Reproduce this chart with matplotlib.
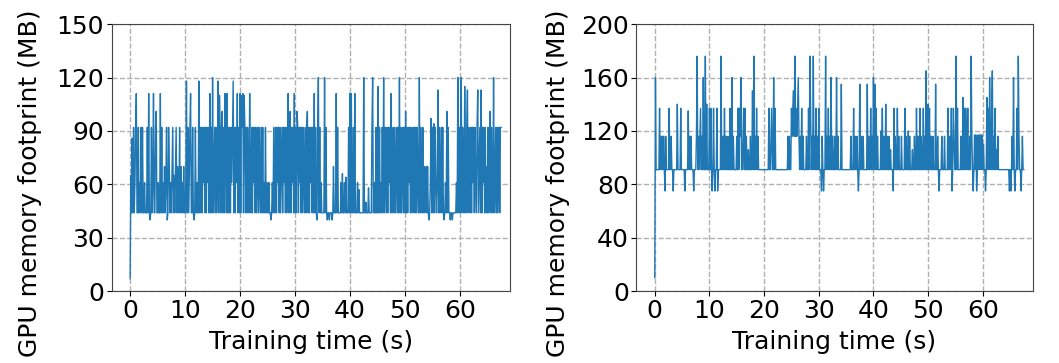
import numpy as np
import matplotlib.pyplot as plt

dt = 0.125

# left run, 5 s per row
mem_left = [
    7, 65, 44, 86, 44, 92, 44, 61, 92, 111, 44, 44, 92, 44, 61, 44, 92, 44, 92, 44,
    44, 61, 44, 44, 44, 92, 44, 111, 44, 40, 44, 92, 44, 61, 111, 44, 44, 92, 101, 44,
    44, 61, 44, 44, 111, 44, 92, 44, 61, 44, 70, 44, 61, 92, 40, 44, 92, 70, 44, 61,
    44, 70, 92, 44, 65, 44, 70, 92, 44, 70, 61, 44, 92, 44, 70, 44, 61, 44, 70, 44,
    44, 61, 118, 44, 92, 44, 61, 92, 111, 44, 44, 92, 44, 40, 44, 92, 44, 61, 44, 44,
    118, 44, 92, 44, 92, 44, 92, 61, 92, 44, 92, 44, 92, 61, 92, 44, 111, 44, 92, 44,
    120, 44, 70, 92, 44, 92, 44, 61, 118, 44, 110, 92, 44, 92, 101, 44, 92, 44, 111, 92,
    44, 111, 44, 92, 44, 92, 44, 92, 61, 92, 118, 44, 92, 44, 92, 61, 111, 44, 92, 44,
    111, 44, 110, 92, 111, 44, 110, 92, 44, 92, 44, 92, 61, 44, 111, 61, 44, 92, 44, 92,
    61, 92, 44, 92, 44, 61, 92, 44, 92, 61, 44, 92, 44, 92, 44, 61, 44, 92, 44, 61,
    44, 44, 61, 44, 44, 40, 44, 61, 44, 92, 61, 44, 92, 44, 92, 61, 92, 44, 92, 44,
    70, 92, 44, 92, 61, 92, 44, 92, 44, 61, 111, 44, 92, 101, 44, 92, 61, 92, 44, 111,
    44, 92, 44, 101, 92, 44, 92, 61, 92, 44, 92, 44, 92, 61, 44, 92, 44, 92, 101, 44,
    92, 44, 92, 61, 92, 44, 92, 44, 111, 44, 92, 44, 40, 92, 120, 44, 92, 44, 61, 44,
    44, 44, 44, 120, 44, 92, 44, 40, 44, 44, 40, 44, 44, 44, 40, 44, 70, 44, 44, 44,
    111, 44, 92, 44, 44, 44, 44, 61, 44, 66, 44, 44, 61, 44, 64, 44, 44, 44, 92, 44,
    111, 44, 111, 44, 44, 92, 44, 111, 44, 44, 44, 61, 44, 57, 44, 44, 44, 44, 44, 44,
    120, 44, 44, 50, 44, 44, 44, 58, 44, 44, 44, 44, 92, 120, 44, 61, 44, 44, 92, 44,
    44, 115, 44, 92, 44, 61, 44, 92, 44, 120, 44, 92, 61, 44, 92, 44, 92, 61, 92, 44,
    111, 44, 61, 92, 44, 92, 44, 70, 92, 44, 92, 44, 120, 44, 92, 44, 61, 92, 44, 92,
    44, 101, 44, 92, 44, 92, 61, 92, 44, 92, 44, 61, 92, 44, 92, 44, 92, 44, 92, 61,
    44, 120, 44, 92, 61, 44, 92, 44, 70, 44, 61, 70, 44, 70, 44, 40, 44, 61, 97, 44,
    92, 44, 94, 44, 92, 61, 44, 61, 113, 44, 92, 44, 61, 92, 44, 92, 44, 40, 44, 61,
    44, 101, 44, 92, 44, 44, 40, 44, 44, 40, 44, 44, 44, 44, 44, 61, 44, 120, 44, 92,
    44, 92, 120, 44, 92, 61, 44, 115, 70, 44, 92, 113, 44, 92, 61, 44, 92, 44, 92, 61,
    92, 44, 92, 61, 44, 92, 113, 44, 70, 92, 44, 113, 44, 92, 61, 92, 44, 92, 44, 70,
    44, 92, 44, 61, 101, 44, 92, 61, 44, 120, 44, 61, 92, 44, 92, 44, 61, 92, 44, 92,
    92,
]

# right run
mem_right = [
    10, 160, 91, 91, 91, 91, 91, 137, 91, 116, 91, 116, 91, 116, 91, 75, 116, 91, 91, 91,
    91, 137, 91, 91, 116, 91, 91, 75, 91, 91, 91, 91, 91, 140, 91, 91, 91, 91, 137, 91,
    91, 91, 91, 91, 75, 91, 91, 91, 91, 135, 91, 116, 91, 116, 91, 91, 91, 75, 91, 91,
    91, 116, 176, 91, 116, 91, 116, 137, 91, 116, 91, 160, 91, 91, 176, 91, 140, 91, 91, 91,
    137, 91, 137, 91, 75, 91, 137, 91, 75, 91, 91, 137, 75, 91, 91, 91, 91, 176, 91, 91,
    116, 91, 137, 91, 116, 91, 91, 116, 91, 91, 137, 91, 91, 160, 91, 116, 91, 91, 91, 91,
    116, 91, 137, 91, 137, 116, 160, 91, 91, 116, 137, 91, 137, 91, 116, 91, 91, 106, 91, 91,
    116, 91, 91, 150, 91, 176, 91, 116, 91, 137, 91, 116, 91, 91, 91, 91, 91, 91, 91, 91,
    91, 91, 91, 91, 91, 91, 91, 137, 91, 91, 116, 137, 91, 91, 160, 91, 137, 91, 91, 91,
    91, 91, 91, 91, 91, 91, 91, 91, 91, 91, 91, 91, 91, 91, 91, 116, 91, 116, 91, 91,
    137, 116, 137, 150, 116, 176, 116, 137, 116, 137, 160, 116, 91, 116, 91, 137, 91, 116, 91, 91,
    91, 91, 116, 91, 91, 137, 91, 176, 140, 91, 116, 91, 176, 91, 116, 91, 137, 91, 116, 91,
    137, 91, 91, 91, 75, 116, 91, 75, 91, 91, 176, 91, 116, 91, 137, 91, 116, 91, 160, 91,
    116, 91, 91, 116, 91, 91, 160, 91, 116, 91, 91, 91, 91, 155, 91, 91, 91, 91, 91, 91,
    91, 91, 91, 91, 91, 91, 91, 116, 91, 91, 91, 137, 91, 116, 91, 91, 116, 91, 75, 91,
    155, 91, 116, 91, 91, 116, 91, 91, 91, 91, 91, 155, 91, 116, 91, 91, 137, 91, 116, 91,
    160, 91, 155, 91, 137, 91, 116, 91, 91, 91, 91, 120, 91, 137, 91, 116, 91, 91, 140, 91,
    116, 91, 91, 116, 91, 106, 91, 91, 91, 75, 137, 91, 116, 91, 91, 137, 91, 116, 91, 91,
    91, 116, 91, 91, 91, 91, 137, 91, 116, 91, 91, 120, 91, 116, 91, 91, 91, 106, 91, 91,
    116, 91, 91, 137, 91, 116, 91, 91, 137, 91, 116, 91, 91, 137, 91, 116, 91, 165, 91, 91,
    140, 91, 137, 91, 116, 91, 91, 116, 91, 91, 91, 155, 91, 91, 116, 91, 75, 91, 91, 91,
    116, 91, 91, 91, 116, 91, 91, 91, 91, 137, 91, 91, 116, 91, 137, 75, 91, 137, 116, 91,
    91, 176, 91, 137, 91, 91, 91, 91, 116, 91, 91, 145, 91, 137, 91, 137, 116, 91, 137, 91,
    91, 116, 91, 176, 116, 91, 75, 91, 117, 91, 117, 75, 91, 117, 91, 117, 91, 117, 91, 117,
    91, 110, 91, 91, 75, 91, 145, 91, 137, 91, 160, 116, 91, 137, 165, 91, 116, 91, 137, 91,
    106, 91, 116, 91, 91, 91, 91, 91, 91, 91, 91, 91, 91, 91, 91, 91, 91, 91, 91, 75,
    91, 75, 91, 116, 91, 160, 91, 75, 91, 91, 137, 91, 176, 116, 91, 91, 75, 91, 116, 91,
    91,
]

plt.rcParams['font.size'] = 18

fig = plt.figure(figsize=(10.59, 3.63), dpi=100)
ax1 = fig.add_axes([0.1055, 0.198, 0.376, 0.7355])
ax2 = fig.add_axes([0.601, 0.198, 0.374, 0.7355])

for ax, mem, ymax, yticks, lab_x in [
    (ax1, mem_left, 150, [0, 30, 60, 90, 120, 150], -0.175),
    (ax2, mem_right, 200, [0, 40, 80, 120, 160, 200], -0.169),
]:
    t = np.arange(len(mem)) * dt
    ax.plot(t, mem, color='#1f77b4', lw=1)
    ax.set_xlim(-3.35, 69.1)
    ax.set_ylim(0, ymax)
    ax.set_yticks(yticks)
    ax.set_xticks([0, 10, 20, 30, 40, 50, 60])
    ax.tick_params(pad=2)
    ax.grid(True, linestyle='--', color='#b0b0b0', lw=1)
    ax.set_xlabel('Training time (s)', labelpad=5)
    ax.set_ylabel('GPU memory footprint (MB)')
    ax.yaxis.set_label_coords(lab_x, 0.405)
    for s in ax.spines.values():
        s.set_color('#444444')

fig.savefig('out.png', dpi=100)
